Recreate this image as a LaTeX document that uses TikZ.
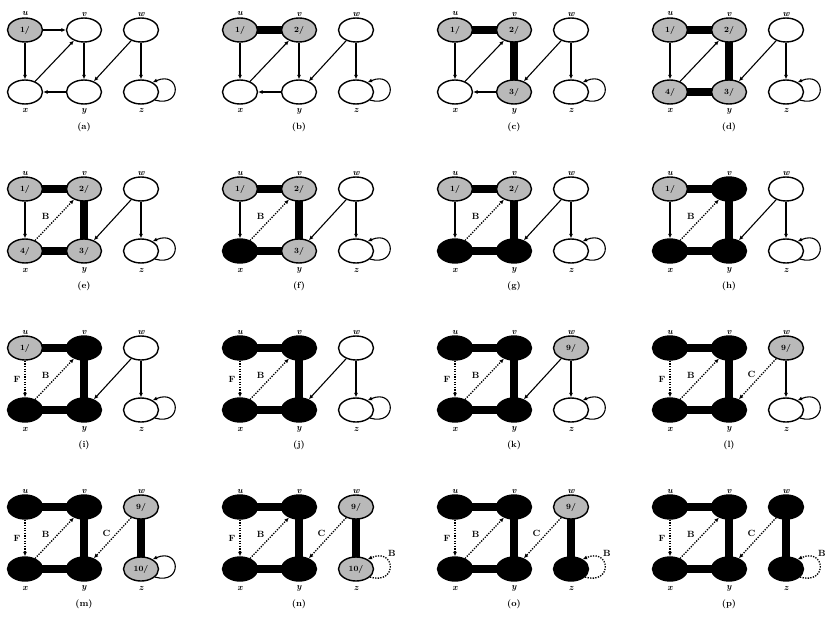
\documentclass[tikz,border=0pt]{standalone}
\usetikzlibrary{arrows.meta,shapes.geometric}
\pgfdeclarelayer{paper}
\pgfdeclarelayer{bg}
\pgfsetlayers{paper,bg,main}
% node helper: #1 prefix, #2 letter, #3 position, #4 style, #5 text
\newcommand\Nd[5]{\node[#4] (#1#2) at (#3) {#5};}
\newcommand\NU[3]{\Nd{#1}{u}{25,30}{#2}{#3}}
\newcommand\NV[3]{\Nd{#1}{v}{84,30}{#2}{#3}}
\newcommand\NW[3]{\Nd{#1}{w}{141,30}{#2}{#3}}
\newcommand\NX[3]{\Nd{#1}{x}{25,92}{#2}{#3}}
\newcommand\NY[3]{\Nd{#1}{y}{84,92}{#2}{#3}}
\newcommand\NZ[3]{\Nd{#1}{z}{141,92}{#2}{#3}}
\newcommand\Labs[2]{%
  \node[lab] (#1lu) at (25,14) {u};
  \node[lab] (#1lv) at (84,14) {v};
  \node[lab] (#1lw) at (141,14) {w};
  \node[lab] (#1lx) at (25,111) {x};
  \node[lab] (#1ly) at (84,111) {y};
  \node[lab] (#1lz) at (141,111) {z};
  \node[plab] (#1lab) at (84,127) {(#2)};}
\newcommand\En[3]{\draw[ne] (#1#2) -- (#1#3);}
\newcommand\Et[3]{\begin{pgfonlayer}{bg}\draw[te] (#1#2.center) -- (#1#3.center);\end{pgfonlayer}}
\newcommand\EB[1]{\draw[de] (#1x) -- node[el,pos=0.43,xshift=-6pt,yshift=6pt] (#1eB) {B} (#1v);}
\newcommand\EF[1]{\draw[de] (#1u) -- node[el,xshift=-8pt] (#1eF) {F} (#1x);}
\newcommand\EC[1]{\draw[de] (#1w) -- node[el,pos=0.5,xshift=-6pt,yshift=5pt] (#1eC) {C} (#1y);}
\newcommand\Ln[1]{\draw[ne] (#1z.-30) .. controls +(28,8) and +(28,-12) .. (#1z.40);}
\newcommand\LB[1]{\draw[de] (#1z.-30) .. controls +(28,8) and +(28,-12) .. node[el,pos=0.72,xshift=7pt,yshift=5pt] (#1eL) {B} (#1z.40);}
\begin{document}
\begin{tikzpicture}[x=1pt,y=-1pt,
  nd/.style={ellipse, draw, line width=1.4pt, minimum width=35pt, minimum height=24pt, inner sep=0pt, font=\bfseries\footnotesize},
  wn/.style={nd, fill=white},
  gn/.style={nd, fill=gray!55},
  bn/.style={nd, fill=black},
  lab/.style={font=\bfseries\itshape\small, inner sep=0pt},
  plab/.style={font=\bfseries\small, inner sep=0pt},
  ne/.style={line width=1.1pt, -{Latex[length=4.5pt,width=4pt]}},
  te/.style={line width=8pt},
  de/.style={line width=1.3pt, dash pattern=on 1.3pt off 1.3pt, -{Latex[length=4.5pt,width=4pt]}},
  el/.style={font=\bfseries\small, inner sep=0pt}
]
\begin{pgfonlayer}{paper}
\fill[white] (0,0) rectangle (828,624);
\end{pgfonlayer}
\useasboundingbox (0,0) rectangle (828,624);

% (a)
\begin{scope}[shift={(0,0)}]
\NU{a}{gn}{1/}\NV{a}{wn}{}\NW{a}{wn}{}\NX{a}{wn}{}\NY{a}{wn}{}\NZ{a}{wn}{}
\En{a}{u}{v}\En{a}{u}{x}\En{a}{x}{v}\En{a}{v}{y}\En{a}{y}{x}\En{a}{w}{y}\En{a}{w}{z}\Ln{a}
\Labs{a}{a}
\end{scope}
% (b)
\begin{scope}[shift={(215,0)}]
\NU{b}{gn}{1/}\NV{b}{gn}{2/}\NW{b}{wn}{}\NX{b}{wn}{}\NY{b}{wn}{}\NZ{b}{wn}{}
\Et{b}{u}{v}\En{b}{u}{x}\En{b}{x}{v}\En{b}{v}{y}\En{b}{y}{x}\En{b}{w}{y}\En{b}{w}{z}\Ln{b}
\Labs{b}{b}
\end{scope}
% (c)
\begin{scope}[shift={(430,0)}]
\NU{c}{gn}{1/}\NV{c}{gn}{2/}\NW{c}{wn}{}\NX{c}{wn}{}\NY{c}{gn}{3/}\NZ{c}{wn}{}
\Et{c}{u}{v}\En{c}{u}{x}\En{c}{x}{v}\Et{c}{v}{y}\En{c}{y}{x}\En{c}{w}{y}\En{c}{w}{z}\Ln{c}
\Labs{c}{c}
\end{scope}
% (d)
\begin{scope}[shift={(645,0)}]
\NU{d}{gn}{1/}\NV{d}{gn}{2/}\NW{d}{wn}{}\NX{d}{gn}{4/}\NY{d}{gn}{3/}\NZ{d}{wn}{}
\Et{d}{u}{v}\En{d}{u}{x}\En{d}{x}{v}\Et{d}{v}{y}\Et{d}{y}{x}\En{d}{w}{y}\En{d}{w}{z}\Ln{d}
\Labs{d}{d}
\end{scope}
% (e)
\begin{scope}[shift={(0,159)}]
\NU{e}{gn}{1/}\NV{e}{gn}{2/}\NW{e}{wn}{}\NX{e}{gn}{4/}\NY{e}{gn}{3/}\NZ{e}{wn}{}
\Et{e}{u}{v}\En{e}{u}{x}\EB{e}\Et{e}{v}{y}\Et{e}{y}{x}\En{e}{w}{y}\En{e}{w}{z}\Ln{e}
\Labs{e}{e}
\end{scope}
% (f)
\begin{scope}[shift={(215,159)}]
\NU{f}{gn}{1/}\NV{f}{gn}{2/}\NW{f}{wn}{}\NX{f}{bn}{}\NY{f}{gn}{3/}\NZ{f}{wn}{}
\Et{f}{u}{v}\En{f}{u}{x}\EB{f}\Et{f}{v}{y}\Et{f}{y}{x}\En{f}{w}{y}\En{f}{w}{z}\Ln{f}
\Labs{f}{f}
\end{scope}
% (g)
\begin{scope}[shift={(430,159)}]
\NU{g}{gn}{1/}\NV{g}{gn}{2/}\NW{g}{wn}{}\NX{g}{bn}{}\NY{g}{bn}{}\NZ{g}{wn}{}
\Et{g}{u}{v}\En{g}{u}{x}\EB{g}\Et{g}{v}{y}\Et{g}{y}{x}\En{g}{w}{y}\En{g}{w}{z}\Ln{g}
\Labs{g}{g}
\end{scope}
% (h)
\begin{scope}[shift={(645,159)}]
\NU{h}{gn}{1/}\NV{h}{bn}{}\NW{h}{wn}{}\NX{h}{bn}{}\NY{h}{bn}{}\NZ{h}{wn}{}
\Et{h}{u}{v}\En{h}{u}{x}\EB{h}\Et{h}{v}{y}\Et{h}{y}{x}\En{h}{w}{y}\En{h}{w}{z}\Ln{h}
\Labs{h}{h}
\end{scope}
% (i)
\begin{scope}[shift={(0,318)}]
\NU{i}{gn}{1/}\NV{i}{bn}{}\NW{i}{wn}{}\NX{i}{bn}{}\NY{i}{bn}{}\NZ{i}{wn}{}
\Et{i}{u}{v}\EF{i}\EB{i}\Et{i}{v}{y}\Et{i}{y}{x}\En{i}{w}{y}\En{i}{w}{z}\Ln{i}
\Labs{i}{i}
\end{scope}
% (j)
\begin{scope}[shift={(215,318)}]
\NU{j}{bn}{}\NV{j}{bn}{}\NW{j}{wn}{}\NX{j}{bn}{}\NY{j}{bn}{}\NZ{j}{wn}{}
\Et{j}{u}{v}\EF{j}\EB{j}\Et{j}{v}{y}\Et{j}{y}{x}\En{j}{w}{y}\En{j}{w}{z}\Ln{j}
\Labs{j}{j}
\end{scope}
% (k)
\begin{scope}[shift={(430,318)}]
\NU{k}{bn}{}\NV{k}{bn}{}\NW{k}{gn}{9/}\NX{k}{bn}{}\NY{k}{bn}{}\NZ{k}{wn}{}
\Et{k}{u}{v}\EF{k}\EB{k}\Et{k}{v}{y}\Et{k}{y}{x}\En{k}{w}{y}\En{k}{w}{z}\Ln{k}
\Labs{k}{k}
\end{scope}
% (l)
\begin{scope}[shift={(645,318)}]
\NU{l}{bn}{}\NV{l}{bn}{}\NW{l}{gn}{9/}\NX{l}{bn}{}\NY{l}{bn}{}\NZ{l}{wn}{}
\Et{l}{u}{v}\EF{l}\EB{l}\Et{l}{v}{y}\Et{l}{y}{x}\EC{l}\En{l}{w}{z}\Ln{l}
\Labs{l}{l}
\end{scope}
% (m)
\begin{scope}[shift={(0,477)}]
\NU{m}{bn}{}\NV{m}{bn}{}\NW{m}{gn}{9/}\NX{m}{bn}{}\NY{m}{bn}{}\NZ{m}{gn}{10/}
\Et{m}{u}{v}\EF{m}\EB{m}\Et{m}{v}{y}\Et{m}{y}{x}\EC{m}\Et{m}{w}{z}\Ln{m}
\Labs{m}{m}
\end{scope}
% (n)
\begin{scope}[shift={(215,477)}]
\NU{n}{bn}{}\NV{n}{bn}{}\NW{n}{gn}{9/}\NX{n}{bn}{}\NY{n}{bn}{}\NZ{n}{gn}{10/}
\Et{n}{u}{v}\EF{n}\EB{n}\Et{n}{v}{y}\Et{n}{y}{x}\EC{n}\Et{n}{w}{z}\LB{n}
\Labs{n}{n}
\end{scope}
% (o)
\begin{scope}[shift={(430,477)}]
\NU{o}{bn}{}\NV{o}{bn}{}\NW{o}{gn}{9/}\NX{o}{bn}{}\NY{o}{bn}{}\NZ{o}{bn}{}
\Et{o}{u}{v}\EF{o}\EB{o}\Et{o}{v}{y}\Et{o}{y}{x}\EC{o}\Et{o}{w}{z}\LB{o}
\Labs{o}{o}
\end{scope}
% (p)
\begin{scope}[shift={(645,477)}]
\NU{p}{bn}{}\NV{p}{bn}{}\NW{p}{bn}{}\NX{p}{bn}{}\NY{p}{bn}{}\NZ{p}{bn}{}
\Et{p}{u}{v}\EF{p}\EB{p}\Et{p}{v}{y}\Et{p}{y}{x}\EC{p}\Et{p}{w}{z}\LB{p}
\Labs{p}{p}
\end{scope}
\end{tikzpicture}
\end{document}
